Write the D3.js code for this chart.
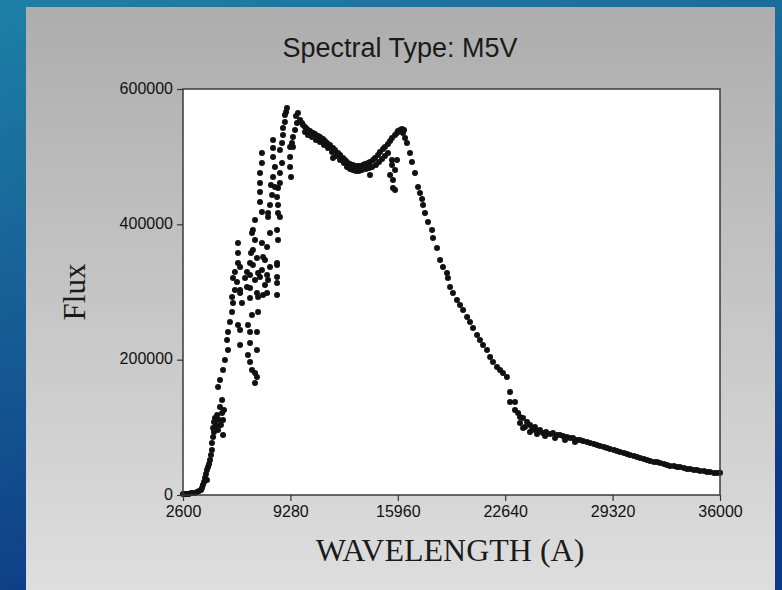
<!DOCTYPE html>
<html>
<head>
<meta charset="utf-8">
<script src="https://cdn.jsdelivr.net/npm/d3@7"></script>
<style>
body{margin:0;background:#11508f;}
svg{display:block;}
</style>
</head>
<body>
<svg id="chart"></svg>
<script>

// tick values
var xTicks = [2600, 9280, 15960, 22640, 29320, 36000]
var yTicks = [0, 200000, 400000, 600000]

// [wavelength (A), flux]
var riseBand = [
    [2600,1500],[2720,1500],[2850,1500],[2970,1500],[3100,3000],[3220,3000],[3350,3000],[3470,4400],
    [3600,5900],[3720,7400],[3780,10300],[3840,14800],[3910,19200],[3970,25100],[4030,31000],[4090,37000],
    [4160,41400],[4090,22200],[4220,45800],[4280,51700],[4340,59100],[4400,66500],[4400,76900],[4470,85700],
    [4470,99000],[4530,107900],[4530,93100],[4590,113800],[4650,103500],[4720,118200],[4720,100500],[4780,96100],
    [4840,110900],[4900,130100],[4960,103500],[5030,140400],[5090,110900],[5090,88700],[5150,125600],[5030,121200],
    [4780,159600],[4900,170000],[5090,184800],[5210,199500],[5400,214300],[5340,229100],[5400,240900],[5520,255700],
    [5650,270500],[5710,283800],[5650,292600],[5830,303000],[5710,320700],[5960,314800],[5830,329600]
]

var scatterBand = [
    [6020,251300],[6150,243900],[6150,221700],[6640,251300],[6770,240900],[6770,224700],[6640,206900],[6770,196600],
    [6890,184800],[7080,180300],[7080,165500],[7200,174400],[7200,214300],[7200,240900],[7270,270500],[6890,266000],
    [6770,291200],[7270,292600],[6580,307400],[6270,283800],[6150,303000],[6460,320700],[6580,329600],[6150,298600],
    [7830,298600],[7700,310400],[7890,317800],[8450,295600],[8450,313300],[8450,322200],[7830,325200],[7270,328100],
    [7510,332600],[8010,337000],[8450,340000],[7390,322200],[6770,325200],[7200,298600],[7580,295600],
    [6020,372500],[6020,357700],[6020,342900],[6150,337000],[6890,387200],[6830,357700],[7700,347300],
    [7080,406500],[6950,391700],[7080,376900],[6950,362100],[7200,350300],[6950,340000],[7080,317800],[6770,305900],
    [6770,342900],[7510,505500],[7510,490700],[7390,475900],[7390,461100],[7390,447800],[7390,433000],[7510,418300],
    [7510,372500],[7580,351800],[8200,524700],[8200,512900],[8200,499600],[8320,484800],[8200,470000],[8320,455200],
    [8140,443400],[8010,428600],[7890,416800],[7890,410900],[8010,387200],[7830,366500],[8070,458200],
    [8630,509900],[8760,490700],[8630,475900],[8630,461100],[8510,453700],[8450,440400],[8510,428600],[8510,416800],
    [8630,410900],[8450,391700],[8510,376900],[8450,342900]
]

var peakBand = [
    [9070,572000],[8940,561600],[8940,551300],[8820,542400],[8820,532100],[8760,520300],[9010,566100],[9260,514300],
    [9260,499600],[9260,484800],[9320,470000],[9750,564600],[9880,554300],[10000,549800],[9690,549800],[9570,539500],
    [9440,529100],[9380,520300],[9440,514300],[9630,560200]
]

var troughBand = [
    [10060,546900],[10190,543900],[10310,540900],[10500,538000],[10690,535000],[10810,533600],[11000,530600],[11120,529100],
    [11310,526200],[11430,523200],[11560,520300],[11740,517300],[11930,512900],[12050,509900],[12240,505500],[12370,502500],
    [12550,498100],[12680,495100],[12800,492200],[12990,489200],[13170,487700],[13300,486300],[13490,486300],[13610,486300],
    [13800,487700],[13920,489200],[14110,490700],[14230,492200],[14420,495100],[14540,498100],[14730,502500],[14850,506900],
    [15040,511400],[15160,514300],[15350,518800],[15480,523200],[15600,527600],[15790,532100],[15910,535000],[15970,538000],
    [16100,539500],[16220,540900],[16350,539500],
    [10190,536500],[10370,532100],[10620,529100],[10870,524700],[11120,521700],[11370,517300],[11620,512900],[11870,506900],
    [11930,498100],[12120,501000],[12370,495100],[12610,490700],[12800,484800],[12990,481800],[13170,480400],[13360,478900],
    [13550,478900],[13730,480400],[13980,481800],[14230,473000],[14170,483300],[14360,484800],[14600,487700],[14790,492200],
    [14980,496600],[15160,501000],[15350,505500],
    [15600,495100],[15600,487700],[15480,473000],[15660,465600],[15790,450800],[15660,453700],[15910,495100],[15790,480400]
]

var declineBand = [
    [16280,535000],[16410,527600],[16530,520300],[16720,505500],[16840,492200],[17030,475900],[17220,455200],[17340,446400],
    [17470,437500],[17530,428600],[17650,416800],[17840,403500],[18090,391700],[18150,379800],[18400,365100],[18590,347300],
    [18770,337000],[19020,328100],[19080,320700],[19210,307400],[19390,298600],[19640,288200],[19830,280800],[20020,273400],
    [20270,263100],[20450,255700],[20640,246800],[20890,236500],[21070,229100],[21260,221700],[21510,214300],[21700,204000],
    [21880,196600],[22130,189200],[22320,184800],[22500,180300],[22750,174400]
]

var tailBand = [
    [22940,152200],[22940,137500],[23250,137500],[23250,125600],[23440,121200],[23560,115300],[23560,106400],[23750,113800],
    [23870,100500],[24000,107900],[24180,103500],[24310,96100],[24490,100500],[24620,94600],[24800,96100],[24990,91600],
    [25180,93100],[25430,90200],[25610,91600],[25860,88700],[26050,88700],[26240,87200],[26480,85700],[26670,84200],
    [26860,84200],[27110,81300],[27290,81300],[27480,79800],[27730,78300],[27920,76900],[28160,75400],[28350,73900],
    [28540,72400],[28790,70900],[28970,69500],[29160,68000],[29410,66500],[29590,65000],[29780,63600],[30030,62100],
    [30220,60600],[30400,59100],[30650,57600],[30840,56200],[31030,54700],[31270,53200],[31460,51700],[31650,50300],
    [31900,48800],[32080,48800],[32270,47300],[32520,45800],[32700,44300],[32890,42900],[33140,42900],[33330,41400],
    [33510,41400],[33760,39900],[33950,38400],[34140,38400],[34380,37000],[34570,37000],[34760,35500],[35010,35500],
    [35190,34000],[35380,34000],[35630,32500],[35810,32500],[36000,33000],
    [23750,99000],[24180,93100],[24620,90200],[25120,87200],[25740,84200],[26360,81300],[26980,78300]
]

var spectrum = riseBand.concat(scatterBand, peakBand, troughBand, declineBand, tailBand)


var createBackground = function(screen,target)
{
    var defs = target.append("defs")

    var sky = defs.append("linearGradient")
        .attr("id","sky")
        .attr("x1","0").attr("y1","0")
        .attr("x2","0.3").attr("y2","1")
    sky.append("stop").attr("offset","0").attr("stop-color","#1e80a6")
    sky.append("stop").attr("offset","1").attr("stop-color","#0e3a85")

    var panel = defs.append("linearGradient")
        .attr("id","panel")
        .attr("x1","0").attr("y1","0")
        .attr("x2","0").attr("y2","1")
    panel.append("stop").attr("offset","0").attr("stop-color","#adadad")
    panel.append("stop").attr("offset","1").attr("stop-color","#dedede")

    target.append("rect")
        .attr("width",screen.width)
        .attr("height",screen.height)
        .attr("fill","url(#sky)")

    target.append("rect")
        .attr("x",26)
        .attr("y",7)
        .attr("width",749)
        .attr("height",screen.height-7)
        .attr("fill","url(#panel)")
}

var createLabels = function(screen,margins,graph,target)
{
    var labels =
        target.append("g")
        .classed("labels",true)

    labels.append("text")
        .text("Spectral Type: M5V")
        .attr("text-anchor","middle")
        .attr("x",400)
        .attr("y",57)
        .attr("font-family","'Liberation Sans', Arial, sans-serif")
        .attr("font-size",27)
        .attr("fill","#1a1a1a")

    labels.append("text")
        .text("WAVELENGTH (A)")
        .attr("text-anchor","middle")
        .attr("x",450)
        .attr("y",561)
        .attr("font-family","'Liberation Serif', 'Times New Roman', serif")
        .attr("font-size",32)
        .attr("fill","#1a1a1a")

    labels.append("g")
        .attr("transform","translate(85,"+(margins.top+(graph.height/2))+")")
        .append("text")
        .text("Flux")
        .attr("text-anchor","middle")
        .attr("transform","rotate(-90)")
        .attr("font-family","'Liberation Serif', 'Times New Roman', serif")
        .attr("font-size",31)
        .attr("fill","#1a1a1a")
}

var createAxes = function(screen,margins,graph,target,xScale,yScale)
{
    var xAxis = d3.axisBottom(xScale)
        .tickValues(xTicks)
        .tickSize(6)
        .tickSizeOuter(0)
        .tickPadding(5)
        .tickFormat(d3.format("d"))
    var yAxis = d3.axisLeft(yScale)
        .tickValues(yTicks)
        .tickSize(6)
        .tickSizeOuter(0)
        .tickPadding(4)
        .tickFormat(d3.format("d"))

    var axes = target.append("g")
    axes.append("g")
        .attr("transform","translate(0,"+(margins.top+graph.height)+")")
        .call(xAxis)
    var yGroup = axes.append("g")
        .attr("transform","translate("+margins.left+",0)")
        .call(yAxis)
    yGroup.selectAll(".tick text").attr("dy","0.26em")

    axes.selectAll(".domain").remove()
    axes.selectAll(".tick line").attr("stroke","#333").attr("stroke-width",1.2)
    axes.selectAll(".tick text")
        .attr("font-family","'Liberation Sans', Arial, sans-serif")
        .attr("font-size",16)
        .attr("fill","#111")
}

var drawDots = function(points,target,xScale,yScale)
{
    target.append("g")
        .classed("dots",true)
        .selectAll("circle")
        .data(points)
        .enter()
        .append("circle")
        .attr("cx",function(p) { return xScale(p[0]);})
        .attr("cy",function(p) { return yScale(p[1]);})
        .attr("r",3)
        .attr("fill","#111")
}

var makeGraph = function(target, points)
{
    var screen = {width:782, height:590}
    var margins = {top:89, bottom:95, left:183, right:62}
    var graph = {
        width: screen.width-margins.left-margins.right,
        height: screen.height-margins.top-margins.bottom}

    target.attr("width",screen.width)
        .attr("height",screen.height)

    createBackground(screen,target)

    target.append("rect")
        .attr("x",margins.left)
        .attr("y",margins.top)
        .attr("width",graph.width)
        .attr("height",graph.height)
        .attr("fill","#fff")

    var xScale = d3.scaleLinear()
        .domain([2600,36000])
        .range([margins.left,margins.left+graph.width])

    var yScale = d3.scaleLinear()
        .domain([0,600000])
        .range([margins.top+graph.height,margins.top])

    drawDots(points,target,xScale,yScale)

    target.append("rect")
        .attr("x",margins.left)
        .attr("y",margins.top)
        .attr("width",graph.width)
        .attr("height",graph.height)
        .attr("fill","none")
        .attr("stroke","#3a3a3a")
        .attr("stroke-width",1.5)

    createAxes(screen,margins,graph,target,xScale,yScale)
    createLabels(screen,margins,graph,target)
}

makeGraph(d3.select("#chart"), spectrum)

</script>
</body>
</html>
